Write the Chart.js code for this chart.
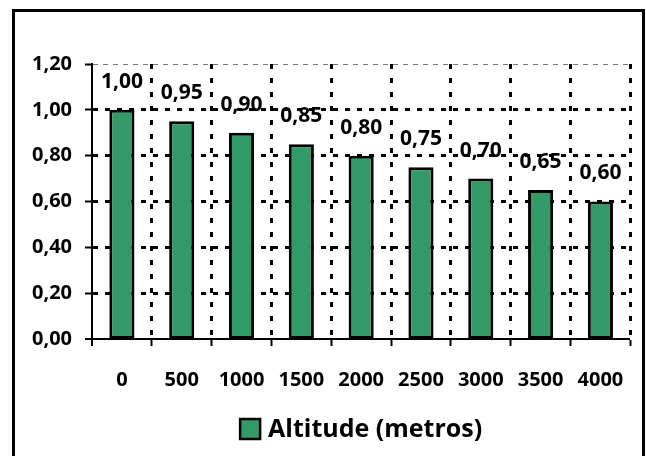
<!DOCTYPE html>
<html>
<head>
<meta charset="utf-8">
<script src="https://cdn.jsdelivr.net/npm/chart.js@4"></script>
<style>
html,body{margin:0;padding:0;background:#fff;}
#wrap{position:relative;width:646px;height:456px;}
</style>
</head>
<body>
<div id="wrap"><canvas id="c" width="646" height="456"></canvas></div>
<script>
const categories = ['0','500','1000','1500','2000','2500','3000','3500','4000'];
const values = [1.00,0.95,0.90,0.85,0.80,0.75,0.70,0.65,0.60];
const seriesName = 'Altitude (metros)';
const yMin = 0, yMax = 1.2, yStep = 0.2;

const FONT = '"Open Sans", "Liberation Sans", sans-serif';
const fmt = v => Number(v).toFixed(2).replace('.', ',');

const framePlugin = {
  id: 'frame',
  beforeDraw(chart) {
    const ctx = chart.ctx;
    ctx.save();
    ctx.fillStyle = '#fff';
    ctx.fillRect(0, 0, chart.width, chart.height);
    ctx.strokeStyle = '#000';
    ctx.lineWidth = 3;
    ctx.strokeRect(13.5, 10.5, 630, 460);
    ctx.restore();
  }
};

const labelPlugin = {
  id: 'valueLabels',
  afterDatasetsDraw(chart) {
    const ctx = chart.ctx;
    const meta = chart.getDatasetMeta(0);
    ctx.save();
    ctx.font = 'bold 21px ' + FONT;
    ctx.fillStyle = '#000';
    ctx.textAlign = 'center';
    ctx.textBaseline = 'middle';
    meta.data.forEach((bar, i) => {
      ctx.fillText(fmt(values[i]), bar.x, bar.y - 28);
    });
    ctx.restore();
  }
};

const legendPlugin = {
  id: 'customLegend',
  afterDraw(chart) {
    const ctx = chart.ctx;
    const ca = chart.chartArea;
    ctx.save();
    ctx.font = 'bold 25px ' + FONT;
    const tw = ctx.measureText(seriesName).width;
    const box = 20, gap = 8;
    const total = box + gap + tw;
    const x0 = (ca.left + ca.right) / 2 - total / 2;
    const cy = 429;
    ctx.fillStyle = '#339966';
    ctx.fillRect(x0, cy - box / 2, box, box);
    ctx.strokeStyle = '#000';
    ctx.lineWidth = 2.5;
    ctx.strokeRect(x0, cy - box / 2, box, box);
    ctx.fillStyle = '#000';
    ctx.textAlign = 'left';
    ctx.textBaseline = 'middle';
    ctx.fillText(seriesName, x0 + box + gap, cy + 1);
    ctx.restore();
  }
};

new Chart(document.getElementById('c'), {
  type: 'bar',
  data: {
    labels: categories,
    datasets: [{
      label: seriesName,
      data: values,
      backgroundColor: '#339966',
      borderColor: '#000',
      borderWidth: 3,
      borderSkipped: false,
      categoryPercentage: 1.0,
      barPercentage: 0.42
    }]
  },
  options: {
    responsive: false,
    animation: false,
    devicePixelRatio: 1,
    layout: { padding: { top: 64, right: 13, left: 0, bottom: 0 } },
    plugins: { legend: { display: false }, tooltip: { enabled: false } },
    scales: {
      x: {
        offset: true,
        afterFit(scale) { scale.height = 117; },
        grid: {
          offset: true,
          color: ctx => ctx.index >= categories.length ? '#777' : '#000',
          lineWidth: ctx => ctx.index === 0 ? 0 : (ctx.index >= categories.length ? 1 : 3),
          tickColor: '#000',
          tickWidth: 2,
          tickLength: 7,
          tickBorderDash: [],
          drawTicks: true
        },
        border: {
          display: true, color: '#000', width: 2,
          dash: ctx => ctx.index >= categories.length ? [5, 5] : [5, 9]
        },
        ticks: {
          color: '#000',
          font: { family: FONT, size: 20, weight: 'bold' },
          padding: 22,
          maxRotation: 0,
          autoSkip: false
        }
      },
      y: {
        min: yMin,
        max: yMax,
        afterFit(scale) { scale.width = 92; },
        grid: {
          color: ctx => (ctx.tick && Math.abs(ctx.tick.value - yMax) < 1e-6) ? '#777' : '#000',
          lineWidth: ctx => {
            if (!ctx.tick) return 0;
            const v = ctx.tick.value;
            if (Math.abs(v) < 1e-6) return 0;
            if (Math.abs(v - yMax) < 1e-6) return 1;
            return 3;
          },
          tickColor: '#000',
          tickWidth: 2,
          tickLength: 7,
          tickBorderDash: [],
          drawTicks: true
        },
        border: {
          display: true, color: '#000', width: 2,
          dash: ctx => (ctx.tick && Math.abs(ctx.tick.value - yMax) < 1e-6) ? [5, 5] : [5, 7]
        },
        ticks: {
          stepSize: yStep,
          color: '#000',
          padding: 13,
          font: { family: FONT, size: 20, weight: 'bold' },
          callback: v => fmt(v)
        }
      }
    }
  },
  plugins: [framePlugin, labelPlugin, legendPlugin]
});
</script>
</body>
</html>
